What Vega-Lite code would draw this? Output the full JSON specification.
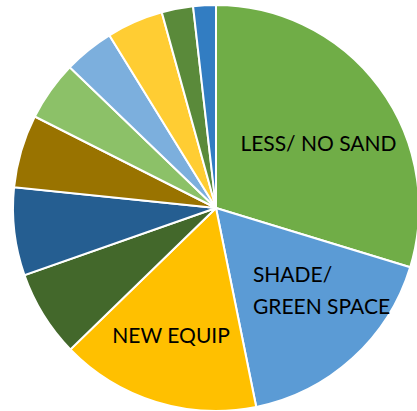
{
  "$schema": "https://vega.github.io/schema/vega-lite/v6.json",
  "width": 402,
  "height": 406,
  "autosize": {"type": "none"},
  "padding": {"left": 15, "top": 5, "right": 0, "bottom": 0},
  "background": "white",
  "config": {"view": {"stroke": null}},
  "data": {
    "values": [
      {"idx": 1, "cat": "LESS/ NO SAND", "label": "LESS/ NO SAND", "v": 29.7},
      {"idx": 2, "cat": "SHADE/ GREEN SPACE", "label": ["SHADE/", "GREEN SPACE"], "v": 17.1},
      {"idx": 3, "cat": "NEW EQUIP", "label": "NEW EQUIP", "v": 15.9},
      {"idx": 4, "cat": "Category 4", "label": "", "v": 6.9},
      {"idx": 5, "cat": "Category 5", "label": "", "v": 7.0},
      {"idx": 6, "cat": "Category 6", "label": "", "v": 5.8},
      {"idx": 7, "cat": "Category 7", "label": "", "v": 4.75},
      {"idx": 8, "cat": "Category 8", "label": "", "v": 4.0},
      {"idx": 9, "cat": "Category 9", "label": "", "v": 4.5},
      {"idx": 10, "cat": "Category 10", "label": "", "v": 2.5},
      {"idx": 11, "cat": "Category 11", "label": "", "v": 1.8}
    ]
  },
  "encoding": {
    "theta": {"field": "v", "type": "quantitative", "stack": true},
    "order": {"field": "idx", "type": "quantitative", "sort": "ascending"}
  },
  "layer": [
    {
      "mark": {"type": "arc", "outerRadius": 203, "stroke": "white", "strokeWidth": 2},
      "encoding": {
        "color": {
          "field": "cat",
          "type": "nominal",
          "legend": null,
          "sort": {"field": "idx"},
          "scale": {
            "domain": ["LESS/ NO SAND", "SHADE/ GREEN SPACE", "NEW EQUIP", "Category 4", "Category 5", "Category 6", "Category 7", "Category 8", "Category 9", "Category 10", "Category 11"],
            "range": ["#70AD47", "#5B9BD5", "#FFC000", "#43682B", "#255E91", "#997300", "#8CC168", "#7CAFDD", "#FFCD33", "#5A8A3A", "#327DC2"]
          }
        }
      }
    },
    {
      "mark": {"type": "text", "font": "Lato", "fontSize": 21, "color": "black", "align": "center", "baseline": "middle", "dx": 6, "dy": 8},
      "encoding": {
        "detail": {"field": "cat", "type": "nominal"},
        "radius": {"value": 120},
        "text": {"condition": {"test": "datum.idx == 1", "field": "label"}, "value": ""}
      }
    },
    {
      "mark": {"type": "text", "font": "Lato", "fontSize": 21, "color": "black", "align": "left", "baseline": "middle", "lineHeight": 32, "dx": -37, "dy": -13},
      "encoding": {
        "detail": {"field": "cat", "type": "nominal"},
        "radius": {"value": 110},
        "text": {"condition": {"test": "datum.idx == 2", "field": "label"}, "value": ""}
      }
    },
    {
      "mark": {"type": "text", "font": "Lato", "fontSize": 21, "color": "black", "align": "center", "baseline": "middle", "dx": -5, "dy": 0},
      "encoding": {
        "detail": {"field": "cat", "type": "nominal"},
        "radius": {"value": 135},
        "text": {"condition": {"test": "datum.idx == 3", "field": "label"}, "value": ""}
      }
    }
  ]
}
